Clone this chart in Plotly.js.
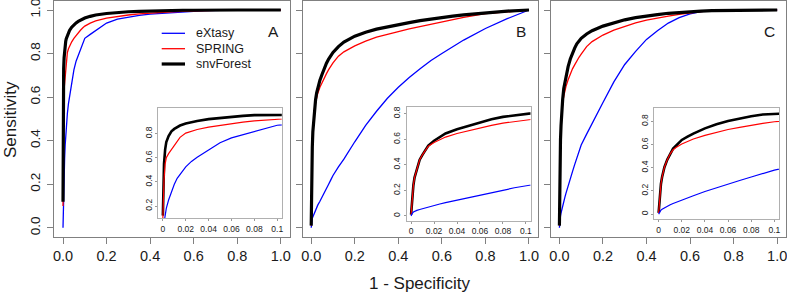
<!DOCTYPE html>
<html>
<head>
<meta charset="utf-8">
<script src="https://cdn.plot.ly/plotly-3.0.1.min.js"></script>
<style>html,body{margin:0;padding:0;background:#fff;}#chart{width:787px;height:293px;}</style>
</head>
<body>
<div id="chart"></div>
<script>
// ---- data (false positive rate grid and sensitivity values) ----
const fpr = [0, 0.0005, 0.001, 0.002, 0.003, 0.005, 0.0075, 0.01, 0.0125, 0.015, 0.02, 0.025, 0.03, 0.04, 0.05, 0.06, 0.07, 0.08, 0.09, 0.1, 0.125, 0.15, 0.2, 0.25, 0.3, 0.35, 0.4, 0.45, 0.5, 0.55, 0.6, 0.65, 0.7, 0.8, 0.9, 1.0];

const seriesNames = ["eXtasy", "SPRING", "snvForest"];
const panelLabels = ["A", "B", "C"];

const extasyA = [0.0, 0.03, 0.07, 0.13, 0.18, 0.25, 0.32, 0.38, 0.43, 0.465, 0.525, 0.57, 0.605, 0.665, 0.725, 0.765, 0.792, 0.82, 0.847, 0.87, 0.888, 0.905, 0.94, 0.958, 0.968, 0.975, 0.981, 0.985, 0.988, 0.991, 0.994, 0.997, 0.999, 1, 1, 1];
const springA = [0.10, 0.30, 0.42, 0.55, 0.60, 0.635, 0.67, 0.71, 0.745, 0.77, 0.805, 0.822, 0.835, 0.854, 0.87, 0.884, 0.896, 0.907, 0.917, 0.926, 0.94, 0.95, 0.963, 0.971, 0.977, 0.982, 0.986, 0.989, 0.992, 0.994, 0.996, 0.997, 0.998, 0.999, 1, 1];
const forestA = [0.12, 0.40, 0.55, 0.67, 0.73, 0.78, 0.82, 0.84, 0.857, 0.868, 0.885, 0.897, 0.906, 0.921, 0.932, 0.941, 0.948, 0.954, 0.959, 0.963, 0.971, 0.977, 0.984, 0.989, 0.992, 0.994, 0.996, 0.997, 0.998, 0.999, 0.999, 1, 1, 1, 1, 1];

const extasyB = [0.0, 0.012, 0.02, 0.03, 0.036, 0.043, 0.05, 0.057, 0.063, 0.069, 0.08, 0.093, 0.104, 0.122, 0.14, 0.163, 0.18, 0.2, 0.22, 0.24, 0.28, 0.315, 0.395, 0.47, 0.535, 0.595, 0.645, 0.69, 0.73, 0.768, 0.80, 0.832, 0.862, 0.915, 0.96, 1.0];
const springB = [0.01, 0.09, 0.15, 0.24, 0.30, 0.37, 0.44, 0.48, 0.515, 0.545, 0.575, 0.598, 0.617, 0.645, 0.668, 0.69, 0.708, 0.726, 0.742, 0.757, 0.788, 0.808, 0.835, 0.857, 0.875, 0.889, 0.901, 0.913, 0.924, 0.935, 0.946, 0.956, 0.966, 0.983, 0.993, 1.0];
const forestB = [0.01, 0.09, 0.15, 0.24, 0.30, 0.37, 0.44, 0.48, 0.52, 0.55, 0.588, 0.62, 0.645, 0.678, 0.705, 0.733, 0.756, 0.775, 0.79, 0.805, 0.832, 0.853, 0.88, 0.898, 0.912, 0.923, 0.933, 0.942, 0.951, 0.959, 0.966, 0.972, 0.978, 0.988, 0.995, 1.0];

const extasyC = [0.0, 0.012, 0.022, 0.034, 0.042, 0.055, 0.068, 0.08, 0.092, 0.102, 0.122, 0.14, 0.158, 0.195, 0.228, 0.258, 0.29, 0.32, 0.35, 0.38, 0.43, 0.48, 0.575, 0.67, 0.75, 0.81, 0.865, 0.905, 0.94, 0.965, 0.982, 0.993, 0.998, 1, 1, 1];
const springC = [0.01, 0.08, 0.15, 0.26, 0.32, 0.405, 0.47, 0.52, 0.555, 0.575, 0.605, 0.628, 0.648, 0.68, 0.708, 0.73, 0.748, 0.767, 0.783, 0.797, 0.832, 0.855, 0.885, 0.908, 0.926, 0.941, 0.954, 0.964, 0.972, 0.98, 0.987, 0.993, 0.997, 0.999, 1, 1];
const forestC = [0.01, 0.08, 0.15, 0.26, 0.32, 0.405, 0.47, 0.525, 0.565, 0.59, 0.64, 0.668, 0.695, 0.74, 0.775, 0.803, 0.825, 0.845, 0.86, 0.87, 0.89, 0.905, 0.926, 0.942, 0.955, 0.965, 0.973, 0.979, 0.985, 0.989, 0.992, 0.995, 0.997, 0.999, 1, 1];

const mainTicks = [0, 0.2, 0.4, 0.6, 0.8, 1.0];
const insetXTicks = [0, 0.02, 0.04, 0.06, 0.08, 0.1];
const insetXLabels = ["0", "0.02", "0.04", "0.06", "0.08", "0.1"];
const insetAYTicks = [0.2, 0.4, 0.6, 0.8];
const insetBCYTicks = [0, 0.2, 0.4, 0.6, 0.8];
const insetBCYLabels = ["0", "0.2", "0.4", "0.6", "0.8"];

// ---- styling / layout ----
const W = 787, H = 293;
const FONT = "Liberation Sans, Arial, Helvetica, sans-serif";
const colors = ["#0000ff", "#ff0000", "#000000"];
const widthsMain = [1.3, 1.3, 3.2];
const widthsInset = [1.2, 1.2, 2.6];
const insetOrder = [2, 1, 0];   // inset: black drawn first, red over it
const px = v => v / W;
const py = v => (H - v) / H;

const panels = [
  [extasyA, springA, forestA],
  [extasyB, springB, forestB],
  [extasyC, springC, forestC]
];
const mainX = [[54.3, 289.5], [302.5, 537.7], [550.7, 785.9]];
const mainY = [236.5, 1.3];
const insetBox = [
  {x: [158.3, 281.8], y: [218.3, 107.8], yr: [0.098, 1.015], yt: insetAYTicks, yl: insetAYTicks.map(String)},
  {x: [406.5, 530.5], y: [221.0, 107.3], yr: [-0.04, 0.85], yt: insetBCYTicks, yl: insetBCYLabels},
  {x: [654.0, 779.0], y: [219.3, 107.5], yr: [-0.045, 0.92], yt: insetBCYTicks, yl: insetBCYLabels}
];
const letterX = [273.7, 520.7, 769.3];

const traces = [];
const layout = {
  width: W, height: H,
  margin: {l: 0, r: 0, t: 0, b: 0},
  paper_bgcolor: "#ffffff", plot_bgcolor: "#ffffff",
  showlegend: false,
  font: {family: FONT, color: "#1a1a1a"},
  annotations: [], shapes: []
};

panels.forEach((ser, p) => {
  const mi = p + 1, ii = p + 4;
  const mk = mi === 1 ? "" : mi;
  ser.forEach((vals, s) => {
    traces.push({x: fpr, y: vals, type: "scatter", mode: "lines", name: seriesNames[s],
      xaxis: "x" + mk, yaxis: "y" + mk,
      line: {color: colors[s], width: widthsMain[s]}, hoverinfo: "skip"});
  });
  insetOrder.forEach(s => {
    traces.push({x: fpr, y: ser[s], type: "scatter", mode: "lines", name: seriesNames[s],
      xaxis: "x" + ii, yaxis: "y" + ii,
      line: {color: colors[s], width: widthsInset[s]}, hoverinfo: "skip"});
  });
  layout["xaxis" + mk] = {
    domain: [px(mainX[p][0]), px(mainX[p][1])], range: [-0.04, 1.04], anchor: "y" + mk,
    tickvals: mainTicks, tickformat: ".1f", ticks: "outside", ticklen: 6, tickcolor: "#808080", tickwidth: 1,
    showline: true, linecolor: "#808080", linewidth: 1, mirror: true, showgrid: false, zeroline: false,
    ticklabeloverflow: "allow",
    tickfont: {family: FONT, size: 14.5, color: "#1a1a1a"}
  };
  layout["yaxis" + mk] = {
    domain: [py(mainY[0]), py(mainY[1])], range: [-0.04, 1.04], anchor: "x" + mk,
    tickvals: mainTicks, tickformat: ".1f", ticks: "outside", ticklen: 6, tickcolor: "#808080", tickwidth: 1,
    showline: true, linecolor: "#808080", linewidth: 1, mirror: true, showgrid: false, zeroline: false,
    showticklabels: p === 0, tickangle: -90, ticklabeloverflow: "allow", ticklabelstandoff: 2,
    tickfont: {family: FONT, size: 13.6, color: "#1a1a1a"}
  };
  const ib = insetBox[p];
  layout["xaxis" + ii] = {
    domain: [px(ib.x[0]), px(ib.x[1])], range: [-0.004, 0.104], anchor: "y" + ii,
    tickvals: insetXTicks, ticktext: insetXLabels, ticks: "outside", ticklen: 2, tickcolor: "#999999",
    showline: true, linecolor: "#b0b0b0", linewidth: 1, mirror: true, showgrid: false, zeroline: false,
    ticklabeloverflow: "allow",
    tickfont: {family: FONT, size: 8.5, color: "#1a1a1a"}
  };
  layout["yaxis" + ii] = {
    domain: [py(ib.y[0]), py(ib.y[1])], range: ib.yr, anchor: "x" + ii,
    tickvals: ib.yt, ticktext: ib.yl, ticks: "outside", ticklen: 2, tickcolor: "#999999", tickangle: -90,
    showline: true, linecolor: "#b0b0b0", linewidth: 1, mirror: true, showgrid: false, zeroline: false,
    ticklabeloverflow: "allow",
    tickfont: {family: FONT, size: 8.5, color: "#1a1a1a"}
  };
  layout.annotations.push({xref: "paper", yref: "paper", x: px(letterX[p]), y: py(32), text: panelLabels[p],
    showarrow: false, xanchor: "center", yanchor: "middle", font: {family: FONT, size: 15.5, color: "#1a1a1a"}});
});

// axis titles
layout.annotations.push({xref: "paper", yref: "paper", x: px(420), y: py(283), text: "1 - Specificity",
  showarrow: false, xanchor: "center", yanchor: "middle", font: {family: FONT, size: 17, color: "#1a1a1a"}});
layout.annotations.push({xref: "paper", yref: "paper", x: px(10), y: py(120), text: "Sensitivity", textangle: -90,
  showarrow: false, xanchor: "center", yanchor: "middle", font: {family: FONT, size: 17, color: "#1a1a1a"}});

// legend (panel A)
const legRows = [33.3, 48.7, 64];
seriesNames.forEach((nm, s) => {
  layout.shapes.push({type: "line", xref: "paper", yref: "paper", x0: px(161.7), x1: px(185), y0: py(legRows[s]), y1: py(legRows[s]),
    line: {color: colors[s], width: widthsMain[s]}});
  layout.annotations.push({xref: "paper", yref: "paper", x: px(193.5), y: py(legRows[s]), text: nm, showarrow: false,
    xanchor: "left", yanchor: "middle", font: {family: FONT, size: 12.5, color: "#1a1a1a"}});
});

Plotly.newPlot("chart", traces, layout, {staticPlot: true, displayModeBar: false});
</script>
</body>
</html>
